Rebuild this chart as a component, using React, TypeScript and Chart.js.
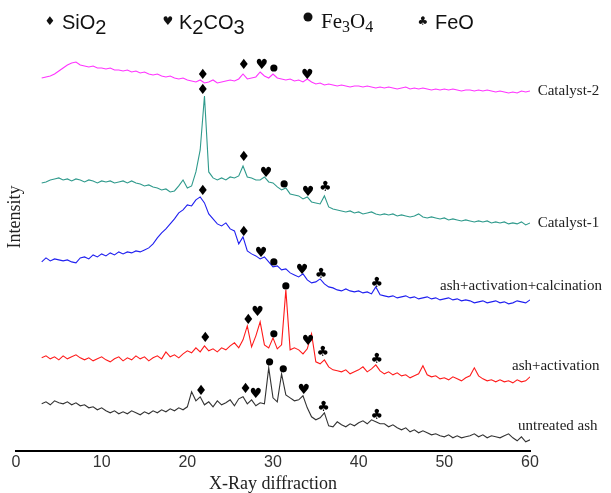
import React, { useEffect, useRef } from "react";
import { Chart, registerables } from "chart.js";
Chart.register(...registerables);

// 2θ grid (degrees)
const twoTheta = [
  3, 3.5, 4, 4.5, 5, 5.5, 6, 6.5, 7, 7.5,
  8, 8.5, 9, 9.5, 10, 10.5, 11, 11.5, 12, 12.5,
  13, 13.5, 14, 14.5, 15, 15.5, 16, 16.5, 17, 17.5,
  18, 18.5, 19, 19.5, 20, 20.5, 21, 21.5, 22, 22.5,
  23, 23.5, 24, 24.5, 25, 25.5, 26, 26.5, 27, 27.5,
  28, 28.5, 29, 29.5, 30, 30.5, 31, 31.5, 32, 32.5,
  33, 33.5, 34, 34.5, 35, 35.5, 36, 36.5, 37, 37.5,
  38, 38.5, 39, 39.5, 40, 40.5, 41, 41.5, 42, 42.5,
  43, 43.5, 44, 44.5, 45, 45.5, 46, 46.5, 47, 47.5,
  48, 48.5, 49, 49.5, 50, 50.5, 51, 51.5, 52, 52.5,
  53, 53.5, 54, 54.5, 55, 55.5, 56, 56.5, 57, 57.5,
  58, 58.5, 59, 59.5, 60,
];

// stacked intensities (arbitrary units, offset per pattern)
const catalyst2 = [
  422, 423, 424, 426, 429, 432, 435, 437, 438, 435,
  434, 433, 434, 432, 432, 431, 432, 430, 430, 429,
  430, 428, 429, 427, 428, 426, 425, 426, 424, 423,
  424, 422, 421, 422, 420, 419, 418, 420, 417, 418,
  420, 417, 418, 419, 420, 419, 421, 426, 421, 422,
  423, 428, 424, 422, 426, 422, 421, 420, 421, 419,
  420, 418, 421, 418, 416, 417, 415, 416, 415, 414,
  415, 414, 413, 414, 414, 413, 414, 413, 412, 413,
  412, 413, 412, 411, 412, 413, 411, 412, 411, 412,
  411, 410, 411, 410, 411, 410, 411, 410, 409, 410,
  410, 409, 410, 409, 410, 409, 408, 409, 408, 407,
  408, 407, 409, 408, 409,
];

const catalyst1 = [
  317, 318, 320, 321, 322, 320, 321, 319, 321, 320,
  318, 320, 319, 317, 319, 318, 319, 317, 318, 319,
  317, 319, 317, 316, 314, 315, 313, 312, 310, 311,
  308, 309, 314, 320, 312, 314, 328, 350, 404, 328,
  322, 320, 322, 320, 323, 322, 324, 334, 323, 322,
  320, 320, 323, 318, 317, 313, 310, 312, 306, 305,
  304, 301, 303, 298, 297, 296, 304, 293, 291, 290,
  289, 288, 289, 287, 288, 286, 287, 288, 286, 285,
  286, 285, 286, 284, 285, 284, 283, 284, 286, 283,
  282, 283, 282, 281, 282, 280, 281, 280, 279, 280,
  279, 278, 279, 278, 279, 277, 278, 277, 278, 276,
  277, 276, 278, 275, 277,
];

const calcined = [
  238, 242, 239, 241, 240, 239, 240, 238, 237, 242,
  243, 241, 245, 243, 246, 244, 247, 245, 248, 246,
  248, 247, 249, 248, 250, 252, 256, 262, 267, 271,
  276, 281, 287, 290, 295, 294, 300, 303, 297, 286,
  281, 276, 274, 277, 271, 269, 256, 263, 249, 246,
  244, 241, 243, 238, 233, 234, 230, 231, 227, 225,
  223, 226, 220, 217, 218, 221, 216, 213, 212, 210,
  209, 211, 209, 208, 209, 207, 208, 206, 213, 205,
  204, 203, 204, 202, 203, 204, 202, 203, 201, 202,
  203, 201, 202, 200, 201, 202, 200, 201, 199, 200,
  199, 197, 198, 199, 197, 198, 199, 197, 198, 196,
  197, 199, 198, 197, 200,
];

const activated = [
  142, 144, 141, 143, 140, 144, 141, 143, 145, 142,
  140, 142, 139, 141, 143, 140, 138, 141, 143, 139,
  142, 140, 144, 141, 143, 139, 142, 144, 141, 148,
  143, 145, 142, 146, 149, 147, 152, 148, 154, 149,
  151, 148, 152, 150, 154, 157, 152, 160, 174, 153,
  164, 178, 155, 152, 162, 151, 155, 210, 150, 152,
  150, 146, 151, 166, 138, 136, 140, 133, 130, 129,
  128, 130, 126, 128, 130, 133, 128, 131, 135, 129,
  126, 128, 125, 127, 124, 125, 122, 124, 126, 134,
  125, 123, 124, 121, 122, 120, 123, 121, 119, 122,
  124, 132, 124, 121, 119, 120, 118, 120, 118, 119,
  117, 120, 118, 119, 123,
];

const untreated = [
  96, 98, 95, 99, 97, 96, 98, 95, 97, 94,
  95, 92, 93, 90, 92, 89, 87, 89, 86, 88,
  86, 89, 87, 85, 88, 86, 89, 87, 90, 88,
  91, 89, 92, 90, 93, 108, 99, 103, 95, 98,
  93, 99, 95, 97, 100, 94, 101, 103, 96, 100,
  94, 97, 96, 132, 102, 98, 126, 105, 102, 99,
  100, 104, 92, 83, 80, 82, 87, 74, 73, 78,
  75, 73, 76, 74, 77, 79, 76, 80, 78, 76,
  76, 73, 75, 72, 70, 72, 68, 70, 67, 69,
  67, 65, 66, 64, 63, 65, 62, 64, 62, 63,
  64, 66, 63, 65, 62, 64, 63, 62, 64, 66,
  62, 59, 63, 58, 60,
];

const seriesNames = ["Catalyst-2", "Catalyst-1", "ash+activation+calcination", "ash+activation", "untreated ash"];
const seriesColors = ["#ff33ff", "#2f9a8c", "#2020f0", "#ff1a1a", "#333333"];
const xTickValues = [0, 10, 20, 30, 40, 50, 60];

// phase markers: [2θ, intensity]
const sio2Marks = [[21.8, 425], [21.8, 410], [21.8, 309], [22.1, 161], [21.6, 108],
  [26.6, 435], [26.6, 343], [26.6, 268], [27.1, 180], [26.8, 110]];
const k2co3Marks = [[28.7, 435], [34.0, 425], [29.2, 327], [34.1, 308], [28.6, 247],
  [33.4, 230], [28.2, 188], [34.1, 158], [28.0, 105], [33.6, 109]];
const fe3o4Marks = [[30.1, 432], [31.3, 316], [30.1, 238], [30.1, 166], [31.5, 214],
  [29.6, 138], [31.2, 131]];
const feoMarks = [[36.1, 313], [35.6, 226], [42.1, 217], [35.8, 147], [42.1, 140],
  [35.9, 92], [42.1, 84]];

// series label anchors: [2θ, intensity]
const labelAnchors = [[60.9, 409], [60.9, 277], [49.5, 214], [57.9, 134], [58.6, 74]];

const SANS = '"Liberation Sans", Arial, sans-serif';
const SERIF = '"Liberation Serif", "Times New Roman", serif';
const SYM = '"DejaVu Sans", sans-serif';

function runs(ctx: CanvasRenderingContext2D, x: number, base: number, parts: [string, string, number][]) {
  let cx = x;
  for (const [t, f, dy] of parts) {
    ctx.font = f;
    ctx.fillText(t, cx, base + dy);
    cx += ctx.measureText(t).width;
  }
}

const overlay = {
  id: "overlay",
  afterDatasetsDraw(chart: any) {
    const ctx: CanvasRenderingContext2D = chart.ctx;
    const xs = chart.scales.x;
    const ys = chart.scales.y;
    ctx.save();
    ctx.fillStyle = "#000";
    ctx.textAlign = "center";
    ctx.textBaseline = "middle";
    const glyphs = (g: string, pts: number[][], size: number) => {
      ctx.font = `${size}px ${SYM}`;
      for (const [a, b] of pts) ctx.fillText(g, xs.getPixelForValue(a), ys.getPixelForValue(b));
    };
    glyphs("\u2666", sio2Marks, 14);
    glyphs("\u2665", k2co3Marks, 14);
    glyphs("\u2663", feoMarks, 14);
    for (const [a, b] of fe3o4Marks) {
      ctx.beginPath();
      ctx.arc(xs.getPixelForValue(a), ys.getPixelForValue(b), 3.6, 0, Math.PI * 2);
      ctx.fill();
    }

    // legend
    ctx.fillStyle = "#111";
    ctx.font = `12px ${SYM}`;
    ctx.fillText("\u2666", 50, 22);
    ctx.fillText("\u2665", 168, 22);
    ctx.fillText("\u2663", 423, 22);
    ctx.beginPath();
    ctx.arc(308, 17, 4.5, 0, Math.PI * 2);
    ctx.fill();
    ctx.textAlign = "left";
    ctx.textBaseline = "alphabetic";
    const f20 = `20px ${SANS}`;
    runs(ctx, 62, 29, [["SiO", f20, 0], ["2", f20, 5]]);
    runs(ctx, 179, 29, [["K", f20, 0], ["2", f20, 5], ["CO", f20, 0], ["3", f20, 5]]);
    runs(ctx, 321, 28, [["Fe", `21px ${SERIF}`, 0], ["3", `16px ${SERIF}`, 4], ["O", `21px ${SERIF}`, 0], ["4", `16px ${SERIF}`, 4]]);
    runs(ctx, 435, 29, [["FeO", f20, 0]]);

    // series labels
    ctx.fillStyle = "#222";
    ctx.font = `15px ${SERIF}`;
    ctx.textBaseline = "middle";
    seriesNames.forEach((n, i) => {
      ctx.fillText(n, xs.getPixelForValue(labelAnchors[i][0]), ys.getPixelForValue(labelAnchors[i][1]));
    });

    // y title
    ctx.translate(15, 217);
    ctx.rotate(-Math.PI / 2);
    ctx.textAlign = "center";
    ctx.font = `18px ${SERIF}`;
    ctx.fillText("Intensity", 0, 0);
    ctx.restore();
  },
};

export default function App() {
  const ref = useRef<HTMLCanvasElement>(null);
  useEffect(() => {
    const canvas = ref.current!;
    const all = [catalyst2, catalyst1, calcined, activated, untreated];
    const chart = new Chart(canvas, {
      type: "line",
      data: {
        datasets: all.map((ys, i) => ({
          label: seriesNames[i],
          data: twoTheta.map((x, j) => ({ x, y: ys[j] })),
          borderColor: seriesColors[i],
          borderWidth: 1.1,
          pointRadius: 0,
          tension: 0,
          fill: false,
        })),
      },
      options: {
        responsive: false,
        animation: false,
        devicePixelRatio: 1,
        layout: { padding: { left: 16, right: 81, top: 40, bottom: 0 } },
        plugins: { legend: { display: false }, tooltip: { enabled: false } },
        scales: {
          x: {
            type: "linear",
            min: 0,
            max: 60,
            afterBuildTicks: (s: any) => { s.ticks = xTickValues.map((v) => ({ value: v })); },
            ticks: { color: "#333", font: { family: SANS, size: 16 }, padding: 2, maxRotation: 0 },
            grid: { display: false, drawTicks: false },
            border: { display: true, color: "#000", width: 2 },
            title: {
              display: true,
              text: "X-Ray diffraction",
              color: "#222",
              font: { family: SERIF, size: 18, lineHeight: 1 },
              padding: { top: 1, bottom: 0 },
            },
          },
          y: { display: false, min: 49, max: 460 },
        },
      } as any,
      plugins: [overlay],
    });
    return () => chart.destroy();
  }, []);
  return (
    <div style={{ position: "absolute", left: 0, top: 0, width: 611, height: 493 }}>
      <canvas ref={ref} width={611} height={493} style={{ display: "block" }} />
    </div>
  );
}
